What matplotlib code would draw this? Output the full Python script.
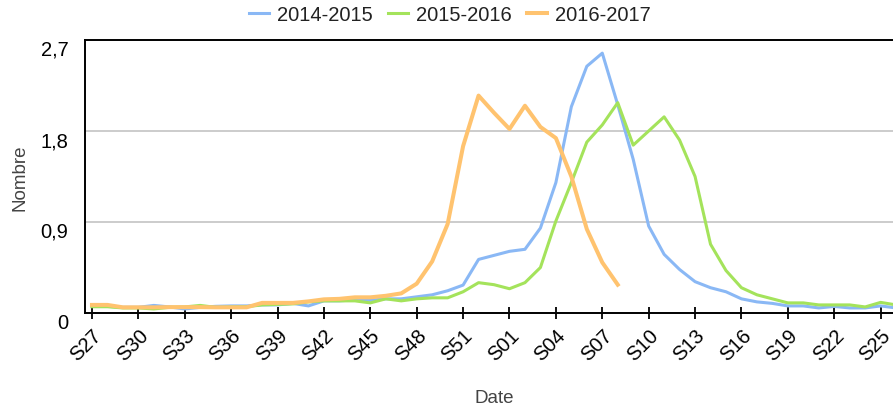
import matplotlib
matplotlib.use("Agg")
import matplotlib.pyplot as plt

plt.rcParams['font.family'] = ['Liberation Sans', 'DejaVu Sans']

weeks = [f"S{w:02d}" for w in range(27, 54)] + [f"S{w:02d}" for w in range(1, 27)]

s2014 = [0.066, 0.066, 0.056, 0.056, 0.075, 0.06, 0.04, 0.056, 0.066, 0.07,
         0.07, 0.08, 0.08, 0.095, 0.07, 0.12, 0.12, 0.13, 0.125, 0.14,
         0.14, 0.16, 0.18, 0.22, 0.276, 0.53, 0.57, 0.61, 0.63, 0.84,
         1.29, 2.04, 2.44, 2.57, 2.06, 1.52, 0.86, 0.58, 0.43, 0.31,
         0.25, 0.21, 0.14, 0.11, 0.095, 0.07, 0.07, 0.05, 0.065, 0.05,
         0.05, 0.07, 0.05]
s2015 = [0.062, 0.062, 0.05, 0.05, 0.04, 0.056, 0.06, 0.075, 0.056, 0.06,
         0.062, 0.08, 0.085, 0.09, 0.11, 0.12, 0.12, 0.12, 0.10, 0.14,
         0.12, 0.14, 0.15, 0.15, 0.21, 0.30, 0.28, 0.24, 0.30, 0.45,
         0.91, 1.29, 1.69, 1.86, 2.08, 1.66, 1.80, 1.94, 1.71, 1.35,
         0.68, 0.42, 0.25, 0.18, 0.14, 0.10, 0.10, 0.08, 0.08, 0.08,
         0.06, 0.105, 0.08]
s2016 = [0.08, 0.08, 0.056, 0.056, 0.056, 0.058, 0.058, 0.058, 0.056, 0.056,
         0.056, 0.10, 0.10, 0.10, 0.115, 0.135, 0.14, 0.155, 0.155, 0.17,
         0.194, 0.29, 0.51, 0.88, 1.65, 2.15, 1.98, 1.82, 2.05, 1.84,
         1.73, 1.35, 0.83, 0.50, 0.28]

series_names = ["2014-2015", "2015-2016", "2016-2017"]
colors = ["#8ab8f5", "#a4e35b", "#ffc36f"]
yticks = [0, 0.9, 1.8, 2.7]
ytick_labels = ["0", "0,9", "1,8", "2,7"]

fig = plt.figure(figsize=(8.93, 4.10), dpi=100)
ax = fig.add_axes([85/893, 1-314/410, 1-85/893, (314-41)/410])

x = list(range(len(weeks)))
ax.plot(x, s2014, color=colors[0], lw=2.2, label=series_names[0], solid_joinstyle='round')
ax.plot(x[:len(s2015)], s2015, color=colors[1], lw=2.2, label=series_names[1], solid_joinstyle='round')
ax.plot(x[:len(s2016)], s2016, color=colors[2], lw=2.9, label=series_names[2], solid_joinstyle='round')

ax.set_ylim(0, 2.7)
ax.set_xlim(-0.45, 51.8)
ax.set_yticks(yticks)
ax.set_yticklabels(ytick_labels, fontsize=14.5)
for lab in ax.get_yticklabels():
    lab.set_va('top')
ax.tick_params(axis='y', length=0, pad=12)
ax.yaxis.grid(True, color='#c8c8c8', lw=1.3)
ax.set_axisbelow(True)

tick_pos = x[::3]
ax.set_xticks(tick_pos)
ax.set_xticklabels([weeks[i] for i in tick_pos], rotation=45, ha='right',
                   rotation_mode='anchor', fontsize=14.5)
ax.tick_params(axis='x', direction='inout', length=9, width=1.3, pad=4)

for s in ['left', 'bottom', 'top']:
    ax.spines[s].set_color('black')
    ax.spines[s].set_linewidth(1.4)
ax.spines['right'].set_visible(False)

ax.set_ylabel("Nombre", fontsize=13.5, color='#444444')
ax.yaxis.set_label_coords(-0.0705, 0.5)
ax.set_xlabel("Date", fontsize=13.5, color='#444444')
ax.xaxis.set_label_coords(0.507, -0.278)

leg = fig.legend(loc='upper center', bbox_to_anchor=(0.504, 1.03), ncol=3, frameon=False,
                 fontsize=14.5, handlelength=1.0, handletextpad=0.4, columnspacing=0.75)
for t in leg.get_texts():
    t.set_color('#222222')

fig.savefig("out.png", dpi=100)
